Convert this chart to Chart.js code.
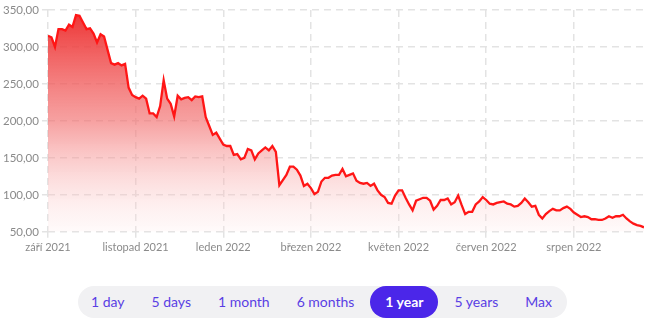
<!DOCTYPE html>
<html>
<head>
<meta charset="utf-8">
<script src="https://cdn.jsdelivr.net/npm/chart.js@4"></script>
<style>
    body { margin: 0; background: #fff; font-family: Lato, "Open Sans", sans-serif; }
    #wrap { position: absolute; left: 0; top: 0; width: 650px; height: 257px; }
    .ranges {
        position: absolute; left: 78px; top: 286px; width: 489px; height: 32px;
        background: #f1f1f3; border-radius: 16px; display: flex; align-items: center;
        justify-content: space-between; box-sizing: border-box; padding: 0 4px 0 2px;
    }
    .ranges span {
        color: #5a3fe4; font-size: 14px; padding: 0 11px; line-height: 32px; border-radius: 16px;
    }
    .ranges span.active { background: #4b26e9; color: #fff; font-weight: bold; padding: 0 15px; }
</style>
</head>
<body>
<div id="wrap"><canvas id="priceChart"></canvas></div>
<div class="ranges">
    <span>1 day</span><span>5 days</span><span>1 month</span><span>6 months</span>
    <span class="active">1 year</span><span>5 years</span><span>Max</span>
</div>
<script>
// closing prices, one sample every few trading days
const prices = [
    315, 313, 300, 324, 324, 322, 330, 327, 343, 342,
    333, 324, 325, 318, 306, 317, 314, 296, 278, 276,
    278, 275, 277, 245, 235, 232, 230, 234, 230, 210,
    210, 205, 220, 255, 230, 223, 206, 234, 229, 231,
    232, 228, 233, 232, 233, 205, 193, 181, 184, 176,
    168, 166, 166, 154, 155, 148, 150, 162, 160, 148,
    156, 160, 164, 160, 166, 158, 113, 120, 127, 138,
    138, 134, 126, 112, 115, 109, 101, 104, 118, 123,
    123, 126, 127, 127, 135, 125, 127, 129, 119, 116,
    115, 116, 112, 115, 106, 100, 97, 89, 88, 99,
    106, 106, 96, 87, 79, 92, 94, 96, 96, 92,
    80, 85, 93, 93, 95, 87, 90, 99, 86, 74,
    77, 77, 87, 91, 97, 93, 88, 87, 89, 90,
    91, 88, 87, 84, 85, 89, 95, 90, 84, 85,
    73, 68, 74, 78, 81, 79, 79, 82, 84, 81,
    76, 73, 70, 71, 70, 67, 67, 66, 66, 68,
    71, 69, 71, 71, 73, 68, 64, 61, 59, 58,
    56
];
const monthLabels = ["září 2021", "listopad 2021", "leden 2022", "březen 2022", "květen 2022", "červen 2022", "srpen 2022"];
const labelEvery = 25; // samples between month labels
const yTicks = [50, 100, 150, 200, 250, 300, 350];

const points = prices.map((v, i) => ({ x: i, y: v }));
const gridColor = "#e3e3e3";

const ctx = document.getElementById("priceChart").getContext("2d");

new Chart(ctx, {
    type: "line",
    data: {
        datasets: [{
            data: points,
            borderColor: "#ff1616",
            borderWidth: 2.3,
            pointRadius: 0,
            tension: 0,
            fill: "start",
            backgroundColor: (c) => {
                const area = c.chart.chartArea;
                if (!area) return "rgba(240,40,40,0.5)";
                const g = c.chart.ctx.createLinearGradient(0, area.top, 0, area.bottom);
                g.addColorStop(0, "rgba(236,38,38,0.95)");
                g.addColorStop(0.5, "rgba(242,110,110,0.65)");
                g.addColorStop(1, "rgba(255,230,230,0.2)");
                return g;
            },
        }]
    },
    options: {
        responsive: true,
        maintainAspectRatio: false,
        animation: false,
        layout: { padding: { top: 4, right: 6, left: 0 } },
        plugins: { legend: { display: false }, tooltip: { enabled: false } },
        scales: {
            x: {
                type: "linear",
                min: 0,
                max: prices.length - 1,
                border: { display: false, dash: [7, 5] },
                grid: { color: gridColor, lineWidth: 1.5, tickLength: 6 },
                ticks: {
                    stepSize: labelEvery,
                    includeBounds: false,
                    maxRotation: 0,
                    color: "#8a8a8a",
                    font: { family: "Lato", size: 11 },
                    callback: (v) => monthLabels[Math.round(v / labelEvery)] || "",
                },
            },
            y: {
                min: yTicks[0],
                max: yTicks[yTicks.length - 1],
                border: { display: false, dash: [7, 5] },
                grid: { color: gridColor, lineWidth: 1.5, tickLength: 6 },
                ticks: {
                    stepSize: 50,
                    color: "#8a8a8a",
                    font: { family: "Lato", size: 11.5 },
                    callback: (v) => v.toFixed(2).replace(".", ","),
                },
            },
        },
    },
});
</script>
</body>
</html>
